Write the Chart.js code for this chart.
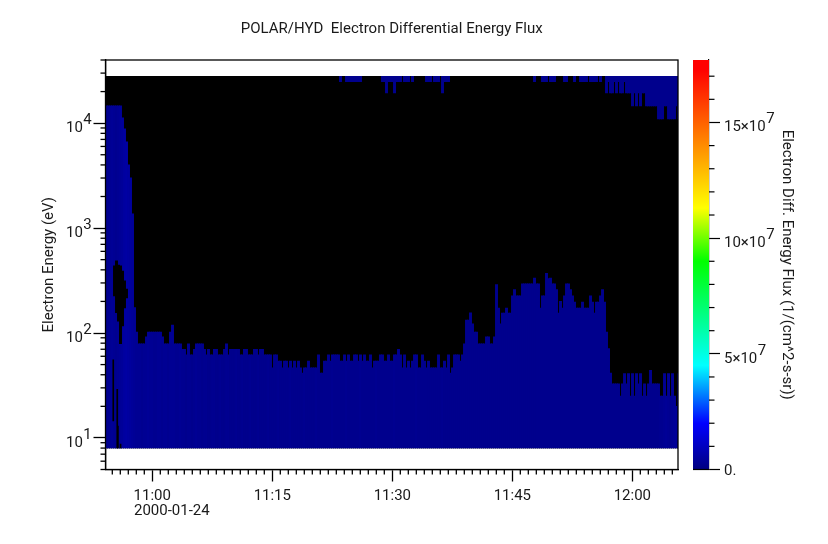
<!-- POLAR/HYD electron spectrogram, drawn as floating bars on a time/log-energy chart -->
<html>
<head>
<meta charset="utf-8">
<script src="https://cdn.jsdelivr.net/npm/chart.js@4"></script>
<style>
    html, body { margin: 0; padding: 0; background: #fff; }
    #wrap { position: relative; width: 828px; height: 544px; }
    canvas { position: absolute; left: 0; top: 0; }
</style>
</head>
<body>
<div id="wrap">
    <canvas id="spectrogram" width="828" height="544"></canvas>
    <canvas id="colorbar" width="828" height="544"></canvas>
</div>

<script type="text/javascript">
    // time axis, minutes after 11:00
    const xTickMinutes = [0, 15, 30, 45, 60];
    const xTickLabels = ['11:00', '11:15', '11:30', '11:45', '12:00'];
    const xMinutesMin = -5.85;
    const xMinutesMax = 65.71;
    const dateLabel = '2000-01-24';
    const columnStep = 0.25;

    // energy axis, eV
    const yTicks = [10, 100, 1000, 10000];
    const yTickExponents = ['1', '2', '3', '4'];
    const yMinorTicks = [5, 6, 7, 8, 9, 20, 30, 40, 50, 60, 70, 80, 90, 200, 300, 400, 500, 600, 700, 800, 900,
        2000, 3000, 4000, 5000, 6000, 7000, 8000, 9000, 20000, 30000, 40000];
    const energyBottom = 8.05;
    const energyTop = 28000;

    // highest energy with signal in each time column
    const columnTop = [
        14600, 14600, 14600, 14600, 14600, 14600, 14600, 14600, 11240, 8820,
        6630, 4000, 3010, 1365, 175, 102, 79, 79, 79, 79,
        92, 102, 102, 102, 102, 102, 102, 102, 92, 79,
        79, 79, 102, 119, 79, 79, 79, 79, 70, 70,
        62, 79, 62, 62, 70, 79, 79, 79, 79, 70,
        62, 70, 62, 62, 70, 70, 62, 62, 62, 70,
        79, 62, 70, 70, 70, 70, 70, 62, 62, 70,
        70, 62, 62, 62, 70, 70, 62, 70, 70, 62,
        62, 62, 62, 46.5, 62, 62, 54, 54, 46.5, 54,
        54, 46.5, 54, 46.5, 54, 46.5, 54, 46.5, 41.6, 46.5,
        46.5, 54, 46.5, 46.5, 46.5, 46.5, 62, 41.6, 41.6, 54,
        54, 62, 54, 62, 62, 62, 62, 54, 54, 62,
        54, 62, 54, 54, 62, 62, 54, 62, 54, 62,
        54, 54, 62, 46.5, 54, 54, 54, 62, 62, 54,
        54, 62, 54, 54, 62, 62, 70, 62, 46.5, 62,
        46.5, 54, 46.5, 54, 62, 62, 46.5, 46.5, 62, 54,
        46.5, 54, 46.5, 46.5, 46.5, 46.5, 62, 46.5, 46.5, 54,
        46.5, 62, 41.6, 46.5, 62, 62, 62, 54, 62, 79,
        133, 133, 156, 122, 102, 102, 79, 79, 79, 79,
        92, 92, 79, 79, 92, 290, 173, 122, 155, 155,
        173, 155, 155, 226, 259, 226, 226, 226, 294, 294,
        294, 294, 294, 294, 334, 294, 294, 173, 226, 226,
        370, 330, 334, 294, 294, 259, 155, 200, 173, 226,
        294, 294, 259, 226, 197, 173, 173, 173, 197, 173,
        173, 173, 226, 197, 155, 197, 197, 226, 259, 197,
        102, 71, 41.6, 32.7, 32.7, 32.7, 32.7, 25, 32.7, 41,
        32.7, 41, 25, 41, 25, 41, 32.7, 41, 25, 32.7,
        25, 32.7, 44, 32.7, 32.7, 32.7, 32.7, 25, 25, 41,
        25, 41, 25, 41, 25, 20, 41
    ];

    // flux in each column, units of 10^7
    const columnFlux = [
        0.25, 0.25, 0.3, 0.35, 0.3, 0.25, 0.3, 0.35, 0.4, 0.5,
        0.55, 0.5, 0.45, 0.4, 0.35, 0.3, 0.3, 0.3, 0.25, 0.3,
        0.3, 0.35, 0.3, 0.3, 0.25, 0.25, 0.3, 0.3, 0.25, 0.3,
        0.3, 0.25, 0.3, 0.3, 0.3, 0.25, 0.25, 0.3, 0.25, 0.25,
        0.2, 0.25, 0.25, 0.2, 0.25, 0.3, 0.25, 0.25, 0.2, 0.25,
        0.25, 0.2, 0.2, 0.25, 0.25, 0.2, 0.2, 0.25, 0.2, 0.2,
        0.25, 0.25, 0.2, 0.2, 0.2, 0.25, 0.2, 0.2, 0.25, 0.2,
        0.2, 0.2, 0.25, 0.2, 0.2, 0.2, 0.25, 0.2, 0.2, 0.2,
        0.2, 0.25, 0.2, 0.2, 0.2, 0.2, 0.25, 0.2, 0.2, 0.2,
        0.2, 0.2, 0.25, 0.2, 0.2, 0.2, 0.2, 0.2, 0.2, 0.25,
        0.2, 0.2, 0.2, 0.2, 0.2, 0.25, 0.2, 0.2, 0.2, 0.2,
        0.2, 0.2, 0.2, 0.25, 0.2, 0.2, 0.2, 0.2, 0.2, 0.2,
        0.25, 0.2, 0.2, 0.2, 0.2, 0.2, 0.2, 0.25, 0.2, 0.2,
        0.2, 0.2, 0.2, 0.2, 0.2, 0.25, 0.2, 0.2, 0.2, 0.2,
        0.2, 0.2, 0.2, 0.2, 0.25, 0.2, 0.2, 0.2, 0.2, 0.2,
        0.2, 0.2, 0.2, 0.2, 0.2, 0.25, 0.2, 0.2, 0.2, 0.2,
        0.2, 0.2, 0.2, 0.2, 0.2, 0.2, 0.2, 0.2, 0.25, 0.2,
        0.2, 0.2, 0.2, 0.2, 0.2, 0.2, 0.2, 0.2, 0.2, 0.2,
        0.2, 0.2, 0.2, 0.2, 0.2, 0.2, 0.2, 0.2, 0.2, 0.2,
        0.2, 0.2, 0.2, 0.2, 0.2, 0.2, 0.2, 0.2, 0.2, 0.2,
        0.2, 0.2, 0.2, 0.2, 0.2, 0.2, 0.2, 0.2, 0.2, 0.2,
        0.2, 0.2, 0.2, 0.2, 0.2, 0.2, 0.2, 0.2, 0.2, 0.2,
        0.2, 0.2, 0.2, 0.2, 0.2, 0.2, 0.2, 0.2, 0.2, 0.2,
        0.2, 0.2, 0.2, 0.2, 0.2, 0.2, 0.2, 0.2, 0.2, 0.2,
        0.2, 0.2, 0.2, 0.2, 0.2, 0.2, 0.2, 0.2, 0.2, 0.2,
        0.2, 0.2, 0.2, 0.2, 0.2, 0.2, 0.2, 0.2, 0.2, 0.2,
        0.2, 0.2, 0.2, 0.2, 0.2, 0.2, 0.2, 0.2, 0.2, 0.2,
        0.2, 0.2, 0.2, 0.2, 0.2, 0.2, 0.2
    ];

    // no-signal gap inside the low energy block
    const gapColumns = [4, 5, 6, 7, 8, 9, 10];
    const gapLow = [226, 156, 130, 79, 117, 173, 216];
    const gapHigh = [437, 487, 443, 437, 390, 315, 262];

    // single dropped samples, drawn narrower than a full column
    const dropMinutes = [-4.88, -4.38, -4.3, -3.97];
    const dropLow = [14.5, 8.05, 8.05, 8.05];
    const dropHigh = [55.5, 29, 13, 8.75];

    // blue patches hanging from the top energy channel
    const bandColumns = [
        117, 120, 121, 122, 123, 124, 125, 126, 127, 138, 139, 140, 141, 142, 143, 144, 145, 146, 147,
        149, 150, 151, 153, 160, 161, 162, 164, 165, 166, 168, 169, 170, 171, 214, 218, 219, 220,
        222, 223, 224, 229, 230, 234, 237, 238, 239, 240, 242, 243, 244, 245, 247,
        250, 251, 252, 253, 254, 255, 256, 257, 258, 259, 260, 261, 262, 263, 264, 265, 266, 267, 268,
        269, 270, 271, 272, 273, 274, 275, 276, 277, 278, 279, 280, 281, 282, 283, 284, 285, 286
    ];
    const bandBottom = [
        24900, 24900, 24900, 24900, 24900, 24900, 24900, 24900, 24900, 24900, 24900, 19450, 24900, 24900, 24900, 19450, 24900, 24900, 24900,
        24900, 24900, 24900, 24900, 24900, 24900, 24900, 24900, 24900, 24900, 19450, 24900, 24900, 24900, 24900, 24900, 24900, 24900,
        24900, 24900, 24900, 24900, 24900, 24900, 24900, 24900, 24900, 24900, 24900, 24900, 24900, 24900, 24900,
        19450, 24900, 19450, 19450, 24900, 19450, 24900, 19450, 19450, 24900, 19450, 19450, 19450, 14600, 19450, 14600, 19450, 14600, 19450,
        19450, 14600, 14600, 14600, 14600, 14600, 14600, 11000, 11000, 11000, 14600, 14600, 11000, 11000, 11000, 11000, 14600, 11000
    ];

    // colour bar, units of 10^7
    const fluxMax = 17.7;
    const fluxTicks = [0, 5, 10, 15];
    const fluxTickLabels = ['0.', '5×10', '10×10', '15×10'];
    const fluxMinorTicks = [1, 2, 3, 4, 6, 7, 8, 9, 11, 12, 13, 14, 16, 17];
    const colorStops = [
        [0, [0, 0, 128]],
        [2, [0, 0, 255]],
        [4.5, [0, 255, 255]],
        [9, [0, 255, 0]],
        [11.3, [255, 255, 0]],
        [17.3, [255, 0, 0]],
        [17.7, [255, 0, 0]]
    ];

    const fontName = 'Roboto';
    const fontSize = 15;
    const inkColor = '#000';
    const textColor = '#1a1a1a';
    const plotLeft = 105.5, plotTop = 60, plotBottom = 469.5;

    function fluxColor(flux) {
        for (let i = 1; i < colorStops.length; i++) {
            if (flux <= colorStops[i][0]) {
                const a = colorStops[i - 1], b = colorStops[i];
                const t = (flux - a[0]) / (b[0] - a[0]);
                const c = a[1].map((v, k) => Math.round(v + (b[1][k] - v) * t));
                return 'rgb(' + c.join(',') + ')';
            }
        }
        return 'rgb(255,0,0)';
    }

    function columnMinute(i) {
        return xMinutesMin + (i + 0.5) * columnStep;
    }

    // axis ticks shorter than the main ones, which chart.js does not do by itself
    function drawMinorTick(ctx, x1, y1, x2, y2) {
        ctx.beginPath();
        ctx.moveTo(x1, y1);
        ctx.lineTo(x2, y2);
        ctx.stroke();
    }

    function drawPower(ctx, x, y, base, exponent) {
        ctx.font = fontSize + 'px ' + fontName;
        ctx.fillStyle = textColor;
        ctx.textBaseline = 'alphabetic';
        ctx.textAlign = 'left';
        ctx.fillText(base, x, y);
        if (exponent) {
            ctx.fillText(exponent, x + ctx.measureText(base).width + 0.5, y - 8);
        }
    }

    const spectrogramFrame = {
        id: 'spectrogramFrame',
        afterDraw(chart) {
            const ctx = chart.ctx, xs = chart.scales.x, ys = chart.scales.y;
            const area = chart.chartArea;
            ctx.save();
            ctx.strokeStyle = inkColor;
            ctx.lineWidth = 1.3;
            ctx.strokeRect(area.left, area.top, area.right - area.left, area.bottom - area.top);
            for (let m = Math.ceil(xMinutesMin); m <= xMinutesMax; m++) {
                if (m % 15 !== 0) {
                    const px = xs.getPixelForValue(m);
                    drawMinorTick(ctx, px, area.bottom, px, area.bottom + 5);
                }
            }
            yMinorTicks.forEach(v => {
                const py = ys.getPixelForValue(v);
                drawMinorTick(ctx, area.left - 5, py, area.left, py);
            });
            yTicks.forEach((v, i) => {
                const py = ys.getPixelForValue(v);
                drawPower(ctx, 66, py + 9, '10', yTickExponents[i]);
            });
            drawPower(ctx, 134, 515, dateLabel, '');
            ctx.restore();
        }
    };

    const colorbarFrame = {
        id: 'colorbarFrame',
        afterDraw(chart) {
            const ctx = chart.ctx, ys = chart.scales.y;
            const area = chart.chartArea;
            ctx.save();
            ctx.strokeStyle = inkColor;
            ctx.lineWidth = 1.2;
            drawMinorTick(ctx, area.left, area.bottom, area.right, area.bottom);
            fluxMinorTicks.forEach(v => {
                const py = ys.getPixelForValue(v);
                drawMinorTick(ctx, area.right, py, area.right + 5.5, py);
            });
            fluxTicks.forEach((v, i) => {
                const py = ys.getPixelForValue(v);
                if (v === 0) {
                    drawPower(ctx, 724, py + 5, fluxTickLabels[i], '');
                } else {
                    drawPower(ctx, 724, py + 9, fluxTickLabels[i], '7');
                }
            });
            ctx.restore();
        }
    };

    const xMajor = xTickMinutes.map(v => ({ value: v, major: true }));
    const yMajor = yTicks.map(v => ({ value: v, major: true }));

    new Chart(document.getElementById('spectrogram'), {
        type: 'bar',
        data: {
            datasets: [
                {
                    label: 'top channel',
                    grouped: false,
                    barThickness: 2.3,
                    borderWidth: 0,
                    backgroundColor: fluxColor(0.2),
                    data: bandColumns.map((c, i) => ({ x: columnMinute(c), y: [bandBottom[i], energyTop] }))
                },
                {
                    label: 'gap',
                    grouped: false,
                    barThickness: 2.3,
                    borderWidth: 0,
                    backgroundColor: '#000',
                    data: gapColumns.map((c, i) => ({ x: columnMinute(c), y: [gapLow[i], gapHigh[i]] }))
                },
                {
                    label: 'dropped samples',
                    grouped: false,
                    barThickness: 1,
                    borderWidth: 0,
                    backgroundColor: '#000',
                    data: dropMinutes.map((m, i) => ({ x: m, y: [dropLow[i], dropHigh[i]] }))
                },
                {
                    label: 'flux',
                    grouped: false,
                    barThickness: 2.3,
                    borderWidth: 0,
                    backgroundColor: columnFlux.map(fluxColor),
                    data: columnTop.map((v, i) => ({ x: columnMinute(i), y: [energyBottom, v] }))
                },
                {
                    label: 'no signal',
                    grouped: false,
                    barThickness: 2.3,
                    borderWidth: 0,
                    backgroundColor: '#000',
                    data: columnTop.map((v, i) => ({ x: columnMinute(i), y: [energyBottom, energyTop] }))
                }
            ]
        },
        options: {
            responsive: false,
            animation: false,
            layout: { padding: { left: 0, right: 150, top: 0, bottom: 0 } },
            plugins: {
                legend: { display: false },
                tooltip: { enabled: false },
                title: {
                    display: true,
                    fullSize: false,
                    text: 'POLAR/HYD  Electron Differential Energy Flux',
                    color: textColor,
                    font: { family: fontName, size: fontSize, weight: 'normal' },
                    padding: { top: 20, bottom: 22 }
                }
            },
            scales: {
                x: {
                    type: 'linear',
                    offset: false,
                    min: xMinutesMin,
                    max: xMinutesMax,
                    afterBuildTicks: s => { s.ticks = xMajor; },
                    afterFit: s => { s.height = 544 - plotBottom; },
                    grid: { offset: false, drawOnChartArea: false, tickLength: 12, tickColor: inkColor, tickWidth: 1.3 },
                    border: { color: inkColor, width: 1.3 },
                    ticks: {
                        autoSkip: false,
                        maxRotation: 0,
                        color: textColor,
                        padding: 6,
                        font: { family: fontName, size: fontSize },
                        callback: v => xTickLabels[xTickMinutes.indexOf(v)]
                    }
                },
                y: {
                    type: 'logarithmic',
                    min: 5,
                    max: 40000,
                    afterBuildTicks: s => { s.ticks = yMajor; },
                    afterFit: s => { s.width = plotLeft; },
                    grid: { drawOnChartArea: false, tickLength: 12, tickColor: inkColor, tickWidth: 1.3 },
                    border: { color: inkColor, width: 1.3 },
                    ticks: { display: false },
                    title: {
                        display: true,
                        text: 'Electron Energy (eV)',
                        color: textColor,
                        font: { family: fontName, size: fontSize },
                        padding: { top: 40, bottom: 0 }
                    }
                }
            }
        },
        plugins: [spectrogramFrame]
    });

    new Chart(document.getElementById('colorbar'), {
        type: 'bar',
        data: {
            labels: ['flux'],
            datasets: [{
                data: [[0, fluxMax]],
                barPercentage: 1,
                categoryPercentage: 1,
                borderWidth: 0,
                backgroundColor: ctx => {
                    const area = ctx.chart.chartArea;
                    if (!area) return '#00f';
                    const g = ctx.chart.ctx.createLinearGradient(0, area.bottom, 0, area.top);
                    colorStops.forEach(s => g.addColorStop(s[0] / fluxMax, 'rgb(' + s[1].join(',') + ')'));
                    return g;
                }
            }]
        },
        options: {
            responsive: false,
            animation: false,
            layout: { padding: { left: 693, right: 0, top: plotTop, bottom: 544 - plotBottom } },
            plugins: { legend: { display: false }, tooltip: { enabled: false } },
            scales: {
                x: { display: false },
                y: {
                    position: 'right',
                    min: 0,
                    max: fluxMax,
                    afterBuildTicks: s => { s.ticks = fluxTicks.map(v => ({ value: v, major: true })); },
                    afterFit: s => { s.width = 119; },
                    grid: { drawOnChartArea: false, tickLength: 11, tickColor: inkColor, tickWidth: 1.2 },
                    border: { color: inkColor, width: 1.2 },
                    ticks: { display: false },
                    title: {
                        display: true,
                        text: 'Electron Diff. Energy Flux (1/(cm^2-s-sr))',
                        color: textColor,
                        font: { family: fontName, size: fontSize },
                        padding: { top: 32, bottom: 0 }
                    }
                }
            }
        },
        plugins: [colorbarFrame]
    });
</script>
</body>
</html>
